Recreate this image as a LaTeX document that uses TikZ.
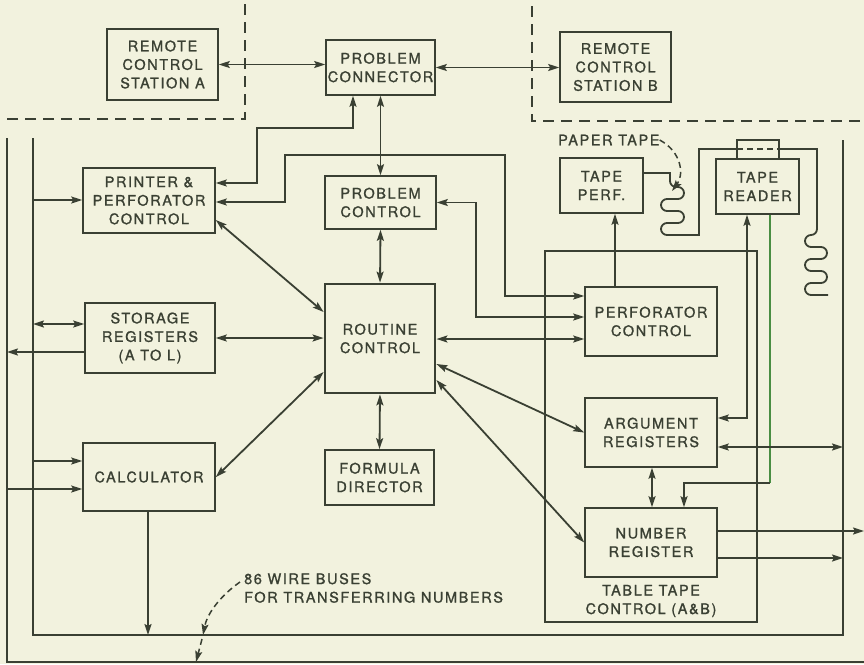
\documentclass[tikz,border=0pt]{standalone}
\usepackage{fontspec}
\setmainfont{TeX Gyre Heros}[LetterSpace=11,FakeBold=1.2]
\usetikzlibrary{arrows.meta,calc}
\definecolor{paper}{HTML}{F2F2DE}
\definecolor{ink}{HTML}{3A4033}
\definecolor{inkgreen}{HTML}{4A8E42}

\begin{document}
\begin{tikzpicture}[x=1pt,y=-1pt,
  >={Stealth[length=11pt,width=7pt,inset=2pt]},
  unit/.style={draw=ink, line width=1.6pt, text=ink, align=center, inner sep=0pt,
    font=\fontsize{14.5}{18.5}\selectfont},
  lbl/.style={text=ink, inner sep=0pt, font=\fontsize{14.5}{18.5}\selectfont},
  wire/.style={draw=ink, line width=1.8pt},
  bus/.style={draw=ink, line width=2.6pt},
  border/.style={draw=ink, line width=1.6pt, dash pattern=on 11pt off 7pt},
  hint/.style={draw=ink, line width=1.5pt, dash pattern=on 6pt off 4pt}]

\fill[paper] (0,0) rectangle (864,664);
\useasboundingbox (0,0) rectangle (864,664);

% remote area boundaries
\draw[border] (245,4) -- (245,119) -- (0,119);
\draw[border] (532,6) -- (532,121) -- (864,121);

% number buses
\coordinate (inTL) at (33,138);
\coordinate (inBL) at (33,635);
\coordinate (inBR) at (843,635);
\coordinate (inTR) at (843,140);
\coordinate (outT) at (7,138);
\coordinate (outB) at (7,662);
\coordinate (outE) at (864,662);
\draw[bus] (inTL) -- (inBL) -- (inBR) -- (inTR);
\draw[bus] (outT) -- (outB) -- (outE);

% units
\node[unit, minimum width=111pt, minimum height=71pt] (rca) at (162.5,64.5) {REMOTE\\CONTROL\\STATION A};
\node[unit, minimum width=109pt, minimum height=55pt] (pcon) at (380.5,67.5) {PROBLEM\\CONNECTOR};
\node[unit, minimum width=111pt, minimum height=70pt] (rcb) at (615.5,67) {REMOTE\\CONTROL\\STATION B};
\node[unit, minimum width=132pt, minimum height=65pt] (ppc) at (149,200.5) {PRINTER \&\\PERFORATOR\\CONTROL};
\node[unit, minimum width=111pt, minimum height=53pt] (pctl) at (380.5,202.5) {PROBLEM\\CONTROL};
\node[unit, minimum width=130pt, minimum height=70pt] (stor) at (150,338) {STORAGE\\REGISTERS\\(A TO L)};
\node[unit, line width=2.8pt, minimum width=110pt, minimum height=109pt] (rout) at (380,338.5) {ROUTINE\\CONTROL};
\node[unit, minimum width=132pt, minimum height=68pt] (calc) at (149,477) {CALCULATOR};
\node[unit, minimum width=109pt, minimum height=55pt] (form) at (379.5,477.5) {FORMULA\\DIRECTOR};
\node[unit, minimum width=83pt, minimum height=55pt] (tperf) at (601.5,185.5) {TAPE\\PERF.};
\node[unit, minimum width=83pt, minimum height=55pt] (trdr) at (757.5,186.5) {TAPE\\READER};
\node[unit, minimum width=212pt, minimum height=371pt] (ttc) at (651,436.5) {};
\node[unit, minimum width=132pt, minimum height=69pt] (pfc) at (651,321.5) {PERFORATOR\\CONTROL};
\node[unit, minimum width=132pt, minimum height=69pt] (arg) at (651,432.5) {ARGUMENT\\REGISTERS};
\node[unit, minimum width=132pt, minimum height=69pt] (num) at (651,542.5) {NUMBER\\REGISTER};
\node[lbl, align=center] (ttcl) at (651,601) {TABLE TAPE\\CONTROL (A\&B)};

% remote stations
\draw[wire,<->] (rca.east) -- (rca.east -| pcon.west);
\draw[wire,<->] (pcon.east) -- (pcon.east -| rcb.west);

% problem connector and problem control
\draw[wire,<->] (pcon.south) -- (pctl.north);
\coordinate (j) at (pcon.south |- 0,155);
\draw[wire,->] (j) -- (285,155) -- (285,202) -- (ppc.east |- 0,202);
\draw[wire,->] (j) -- (505,155) -- (505,296) -- (pfc.west |- 0,296);
\draw[wire,<->] (pcon.south -| 353,0) -- (353,128) -- (257,128) -- (257,183) -- (ppc.east |- 0,183);
\draw[wire,<->] (pctl.east) -- (476,202.5) -- (476,317) -- (pfc.west |- 0,317);
\draw[wire,<->] (pctl.south) -- (rout.north);

% routine control
\draw[wire,<->] (rout.south) -- (form.north);
\draw[wire,<->] (stor.east) -- (stor.east -| rout.west);
\draw[wire,<->] (rout.east |- 0,339) -- (pfc.west |- 0,339);
\draw[wire,<->] (ppc.east |- 0,220) -- (rout.west |- 0,312);
\draw[wire,<->] (rout.west |- 0,372) -- (calc.east);
\draw[wire,<->] (rout.east |- 0,364) -- (arg.west);
\draw[wire,<->] (rout.east |- 0,380) -- (num.west);

% left bus connections
\draw[wire,->] (inTL |- 0,200) -- (ppc.west |- 0,200);
\draw[wire,<->] (inTL |- 0,324) -- (stor.west |- 0,324);
\draw[wire,->] (stor.west |- 0,352) -- (outT |- 0,352);
\draw[wire,->] (inTL |- 0,461) -- (calc.west |- 0,461);
\draw[wire,->] (outT |- 0,489) -- (calc.west |- 0,489);
\draw[wire,->] (calc.south -| 148,0) -- (inBL -| 148,0);

% table tape control
\draw[wire,->] (pfc.north -| 615,0) -- (tperf.south -| 615,0);
\draw[wire,<->] (arg.east |- 0,418) -- (747,418) -- (trdr.south -| 747,0);
\coordinate (g) at (770,483);
\draw[wire,draw=inkgreen] (trdr.south -| g) -- (g);
\draw[wire,->] (g) -- (684,483) -- (num.north -| 684,0);
\draw[wire,<->] (arg.east |- 0,447) -- (inTR |- 0,447);
\draw[wire,<->] (arg.south -| 652,0) -- (num.north -| 652,0);
\draw[wire,->] (num.east |- 0,531) -- (864,531);
\draw[wire,->] (num.east |- 0,558) -- (inTR |- 0,558);

% paper tape path
\draw[wire] (tperf.east |- 0,173) -- (670,173) -- (670,181)
  arc[start angle=180,end angle=270,radius=6pt] -- (678,187)
  arc[start angle=90,end angle=-90,radius=6pt] -- (667,199)
  arc[start angle=90,end angle=270,radius=6pt] -- (678,211)
  arc[start angle=90,end angle=-90,radius=6pt] -- (667,223)
  arc[start angle=90,end angle=270,radius=6pt] -- (699,235)
  -- (699,149) -- (737,149);
\draw[wire] (trdr.north -| 737,0) -- (737,140) -- (779,140) -- (trdr.north -| 779,0);
\draw[hint] (737,149) -- (779,149);
\draw[wire] (779,149) -- (817,149) -- (817,229)
  arc[start angle=0,end angle=-90,radius=6pt]
  arc[start angle=90,end angle=270,radius=6pt] -- (821,247)
  arc[start angle=90,end angle=-90,radius=6pt] -- (811,259)
  arc[start angle=90,end angle=270,radius=6pt] -- (821,271)
  arc[start angle=90,end angle=-90,radius=6pt] -- (811,283)
  arc[start angle=90,end angle=270,radius=6pt] -- (828,295);

% labels with pointers
\node[lbl, anchor=west] (ptl) at (558,140) {PAPER TAPE};
\draw[hint,->] (ptl.east) .. controls (682,152) and (684,175) .. (672,191);
\node[lbl, anchor=north west, align=left] (wl) at (244,573) {86 WIRE BUSES\\FOR TRANSFERRING NUMBERS};
\draw[hint,->] (240,582) .. controls (220,596) and (207,614) .. (inBL -| 203,0);
\draw[hint,->] (202,639) -- (outB -| 196,0);

\end{tikzpicture}
\end{document}
